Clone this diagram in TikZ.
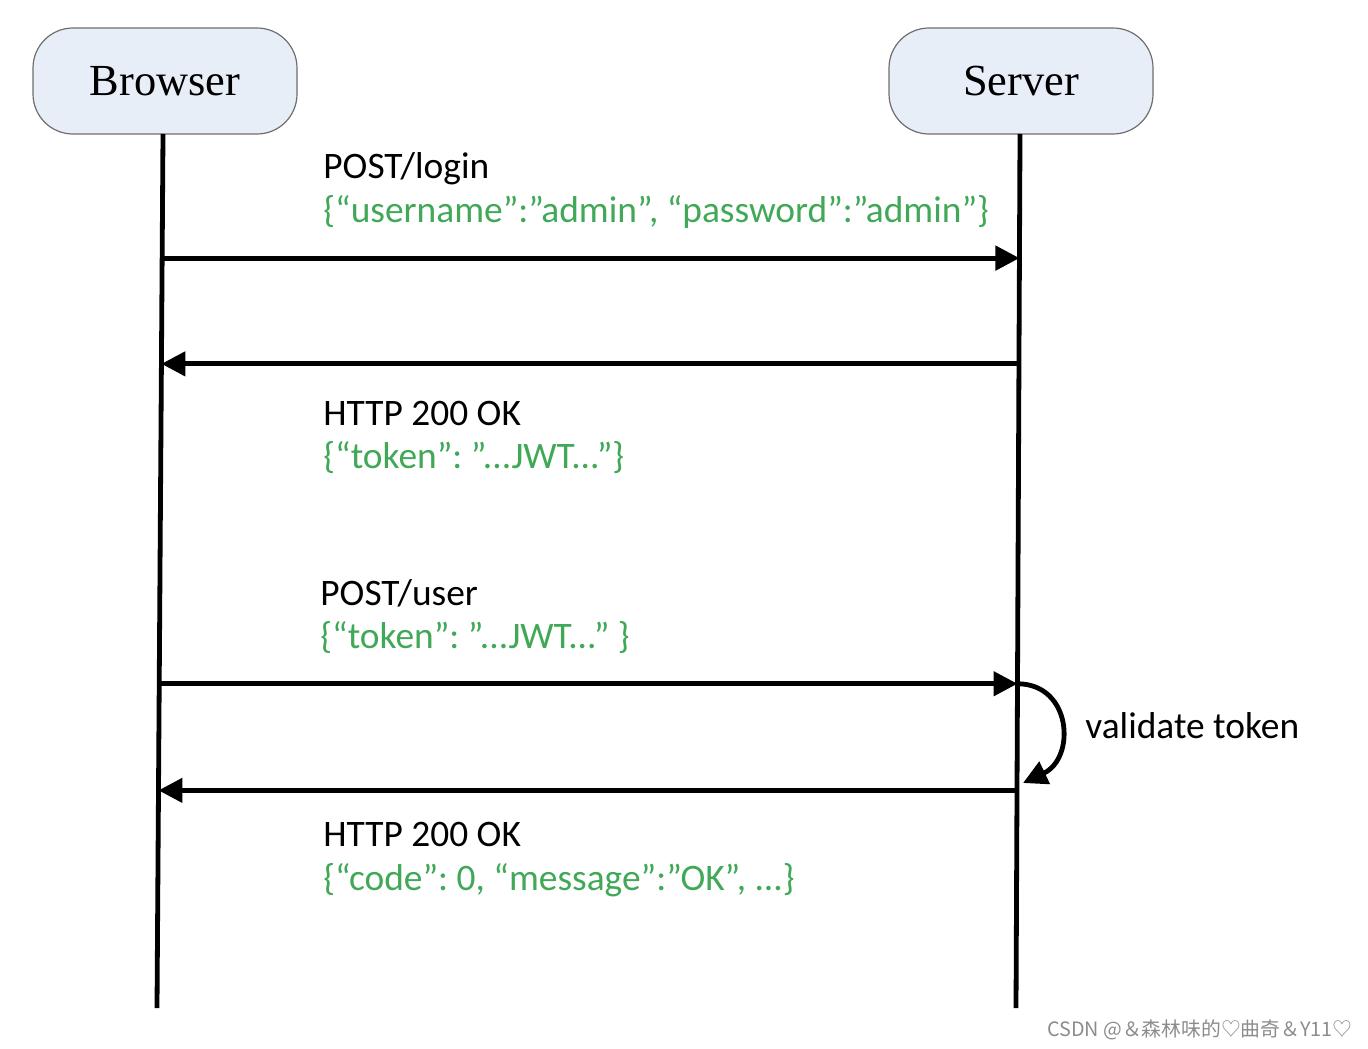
\documentclass[tikz,border=0pt]{standalone}
\usepackage{fontspec}
\setmainfont{Carlito}
\newfontfamily\boxfont{Liberation Serif}
\newfontfamily\cjk{Noto Sans CJK SC}
\usetikzlibrary{arrows.meta}
\definecolor{msggreen}{RGB}{64,168,86}
\definecolor{boxfill}{RGB}{232,238,247}
\definecolor{boxline}{RGB}{110,110,110}
\frenchspacing
\tikzset{
  actor/.style={draw=boxline, fill=boxfill, rounded corners=20pt, line width=0.6pt,
    minimum width=132pt, minimum height=53pt, font=\boxfont\fontsize{22.2}{26}\selectfont},
  lifeline/.style={line width=2.4pt},
  msg/.style={line width=2.4pt, -{Triangle[length=12pt,width=12pt]}},
  msgtext/.style={anchor=base west, inner sep=0pt, font=\fontsize{18.7}{22}\selectfont},
  payload/.style={msgtext, text=msggreen}
}
\begin{document}
\begin{tikzpicture}[x=0.5pt, y=-0.5pt]
	\useasboundingbox (0,0) rectangle (1368,1048);
	\node[actor] (browser) at (165,81) {Browser};
	\node[actor] (server) at (1021,81) {Server};

	\coordinate (btop) at (163,134);
	\coordinate (bbot) at (157,1008);
	\coordinate (stop) at (1020,134);
	\coordinate (sbot) at (1016,1008);
	\draw[lifeline] (btop) -- (bbot)
		coordinate[pos=0.142] (b1) coordinate[pos=0.263] (b2)
		coordinate[pos=0.629] (b3) coordinate[pos=0.751] (b4);
	\draw[lifeline] (stop) -- (sbot)
		coordinate[pos=0.142] (s1) coordinate[pos=0.263] (s2)
		coordinate[pos=0.629] (s3) coordinate[pos=0.751] (s4);
	\coordinate (loopend) at (1023,783);

	\draw[msg] (b1) -- (s1);
	\draw[msg] (s2) -- (b2);
	\draw[msg] (b3) -- (s3);
	\draw[msg] (s4) -- (b4);
	\draw[msg] (s3) .. controls (1072,684) and (1076,758) .. (loopend);

	\node[msgtext] (req1) at (323,179) {POST/login};
	\node[payload] (req1body) at (323,222) {\{“username”:”admin”, “password”:”admin”\}};
	\node[msgtext] (res1) at (323,425) {HTTP 200 OK};
	\node[payload] (res1body) at (323,468) {\{“token”: ”...JWT...”\}};
	\node[msgtext] (req2) at (320,605) {POST/user};
	\node[payload] (req2body) at (320,648) {\{“token”: ”...JWT...” \}};
	\node[msgtext] (check) at (1085,738) {validate token};
	\node[msgtext] (res2) at (323,846) {HTTP 200 OK};
	\node[payload] (res2body) at (323,890) {\{“code”: 0, “message”:”OK”, ...\}};

	\node[anchor=base east, inner sep=0pt, text=black!45, font=\cjk\fontsize{9.9}{12}\selectfont] (mark) at (1353,1036) {CSDN @＆森林味的♡曲奇＆Y11♡};
\end{tikzpicture}
\end{document}
